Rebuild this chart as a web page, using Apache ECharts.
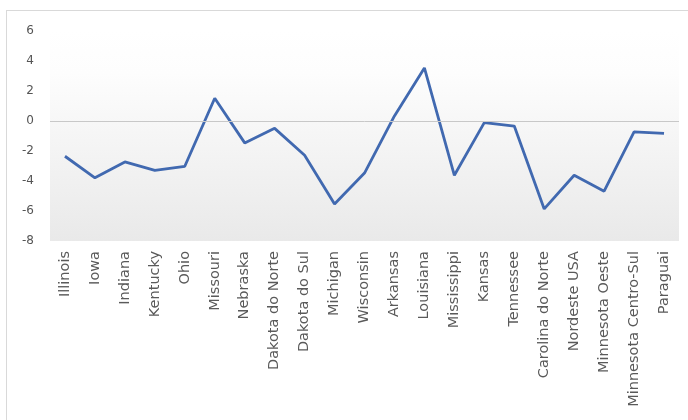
<!DOCTYPE html>
<html>
<head>
<meta charset="utf-8">
<script src="https://cdn.jsdelivr.net/npm/echarts@6/dist/echarts.min.js"></script>
<style>
  html, body { margin: 0; padding: 0; background: #ffffff; }
  #frame { position: absolute; left: 6px; top: 10px; width: 690px; height: 420px; border: 1px solid #d9d9d9; box-sizing: border-box; }
  #chart { position: absolute; left: 0; top: 0; width: 688px; height: 420px; }
</style>
</head>
<body>
<div id="frame"></div>
<div id="chart"></div>
<script>
// Regions along the horizontal axis
var categories = [
  'Illinois', 'Iowa', 'Indiana', 'Kentucky', 'Ohio', 'Missouri', 'Nebraska',
  'Dakota do Norte', 'Dakota do Sul', 'Michigan', 'Wisconsin', 'Arkansas',
  'Louisiana', 'Mississippi', 'Kansas', 'Tennessee', 'Carolina do Norte',
  'Nordeste USA', 'Minnesota Oeste', 'Minnesota Centro-Sul', 'Paraguai'
];

// Value for each region
var values = [
  -2.35, -3.79, -2.73, -3.29, -3.02, 1.52, -1.46,
  -0.49, -2.28, -5.53, -3.47, 0.34,
  3.54, -3.62, -0.11, -0.34, -5.86,
  -3.62, -4.68, -0.72, -0.83
];

// Value axis range
var yMin = -8, yMax = 6, yStep = 2;

var chart = echarts.init(document.getElementById('chart'), null, { renderer: 'canvas' });

chart.setOption({
  animation: false,
  grid: {
    left: 50, right: 9, top: 31, bottom: 179,
    show: true,
    borderWidth: 0,
    backgroundColor: new echarts.graphic.LinearGradient(0, 0, 0, 1, [
      { offset: 0, color: '#ffffff' },
      { offset: 0.2, color: '#fdfdfd' },
      { offset: 1, color: '#e9e9e9' }
    ])
  },
  xAxis: {
    type: 'category',
    data: categories,
    boundaryGap: true,
    axisLine: { show: false },
    axisTick: { show: false },
    axisLabel: {
      rotate: 90,
      interval: 0,
      margin: 10,
      color: '#5a5a5a',
      fontFamily: 'DejaVu Sans',
      fontSize: 14.5
    },
    splitLine: { show: false }
  },
  yAxis: {
    type: 'value',
    min: yMin, max: yMax, interval: yStep,
    axisLine: { show: false },
    axisTick: { show: false },
    axisLabel: {
      margin: 16,
      color: '#555555',
      fontFamily: 'DejaVu Sans',
      fontSize: 12
    },
    splitLine: { show: false }
  },
  series: [{
    type: 'line',
    data: values,
    symbol: 'none',
    lineStyle: { color: '#4169b0', width: 2.8 },
    markLine: {
      silent: true,
      symbol: 'none',
      label: { show: false },
      lineStyle: { color: '#c8c8c8', width: 1, type: 'solid' },
      data: [{ yAxis: 0 }]
    },
    z: 3
  }]
});
</script>
</body>
</html>
